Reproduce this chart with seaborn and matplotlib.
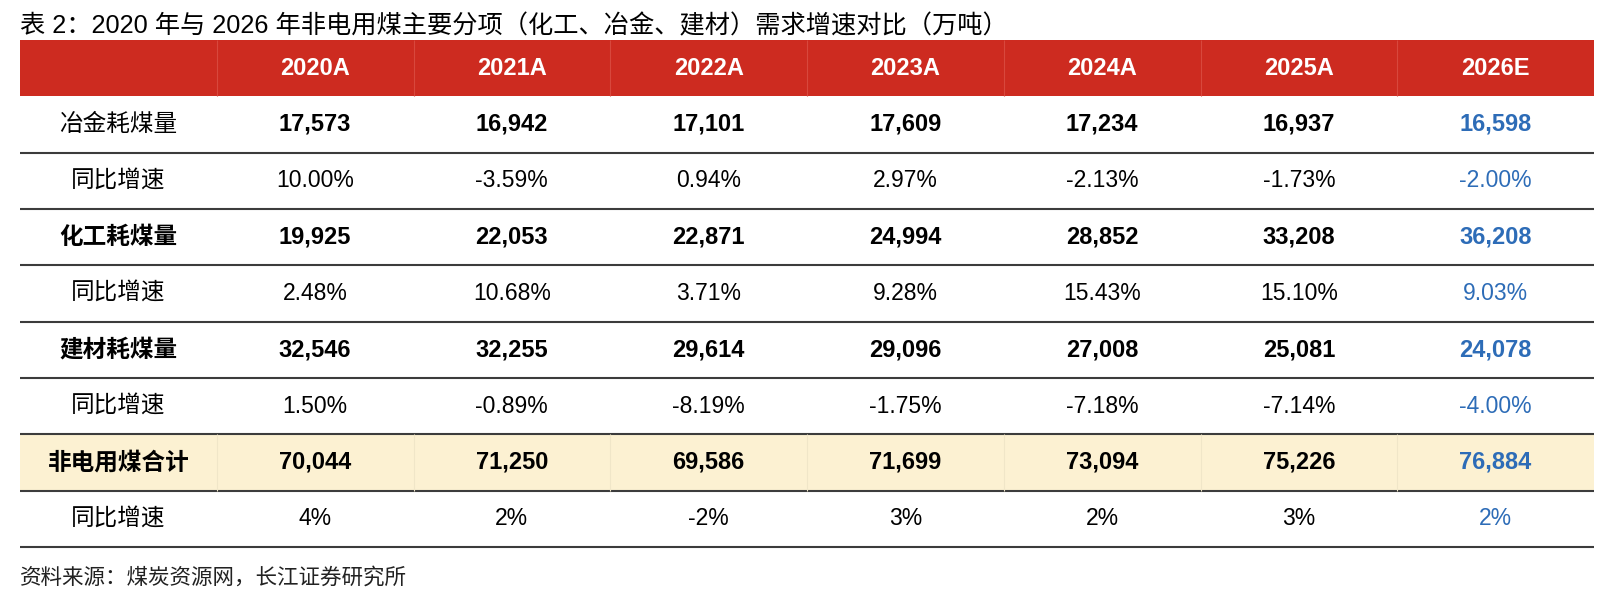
import numpy as np
import pandas as pd
import matplotlib
matplotlib.use('Agg')
import matplotlib.pyplot as plt
from matplotlib.colors import ListedColormap
import seaborn as sns

# données du tableau (万吨 / %)
years = ['2020A', '2021A', '2022A', '2023A', '2024A', '2025A', '2026E']
row_labels = ['冶金耗煤量', '同比增速', '化工耗煤量', '同比增速',
              '建材耗煤量', '同比增速', '非电用煤合计', '同比增速']
metal = [17573, 16942, 17101, 17609, 17234, 16937, 16598]
metal_yoy = [10.00, -3.59, 0.94, 2.97, -2.13, -1.73, -2.00]
chem = [19925, 22053, 22871, 24994, 28852, 33208, 36208]
chem_yoy = [2.48, 10.68, 3.71, 9.28, 15.43, 15.10, 9.03]
build = [32546, 32255, 29614, 29096, 27008, 25081, 24078]
build_yoy = [1.50, -0.89, -8.19, -1.75, -7.18, -7.14, -4.00]
total = [70044, 71250, 69586, 71699, 73094, 75226, 76884]
total_yoy = [4, 2, -2, 3, 2, 3, 2]

title = '表 2：2020 年与 2026 年非电用煤主要分项（化工、冶金、建材）需求增速对比（万吨）'
source = '资料来源：煤炭资源网，长江证券研究所'

RED = '#CD2B20'
YELLOW = '#FCF1D2'
BLUE = '#2D6CB7'
LINE = '#3c3c3c'

sns.set_theme(style='white')
plt.rcParams['font.family'] = ['Liberation Sans', 'Noto Sans CJK SC']

W, H = 1606, 598
fig = plt.figure(figsize=(W / 100, H / 100), dpi=100)

# zone du tableau en pixels
left, right, top, bottom = 20, 1594, 40, 547
ax = fig.add_axes([left / W, 1 - bottom / H, (right - left) / W, (bottom - top) / H])

# couleurs de fond : 1 = entête rouge, 2 = ligne total jaune
bg = np.zeros((9, 8))
bg[0, :] = 1
bg[7, :] = 2
bg = pd.DataFrame(bg)
sns.heatmap(bg, cmap=ListedColormap(['white', RED, YELLOW]), vmin=0, vmax=2,
            cbar=False, ax=ax, xticklabels=False, yticklabels=False, linewidths=0)

# lignes horizontales
ax.hlines(list(range(2, 10)), 0, 8, color=LINE, lw=1.5, clip_on=False)
# séparateurs verticaux clairs
ax.vlines(list(range(1, 8)), 0, 1, color='#D8483D', lw=0.8)
ax.vlines(list(range(1, 8)), 7, 8, color='#F0E6C8', lw=0.8)

# entête
for j, y in enumerate(years):
    ax.text(j + 1.5, 0.5, y, ha='center', va='center', color='white',
            fontsize=17, fontweight='bold')

rows = [(metal, 'num'), (metal_yoy, 'pct'), (chem, 'num'), (chem_yoy, 'pct'),
        (build, 'num'), (build_yoy, 'pct'), (total, 'num'), (total_yoy, 'int')]
bold_labels = {'化工耗煤量', '建材耗煤量', '非电用煤合计'}

for i, (label, (vals, kind)) in enumerate(zip(row_labels, rows)):
    yc = i + 1.5
    ax.text(0.5, yc, label, ha='center', va='center', fontsize=17,
            family=['Noto Sans CJK SC'],
            fontweight='bold' if label in bold_labels else 'normal', color='black')
    for j, v in enumerate(vals):
        if kind == 'num':
            s, fw, fs = f'{v:,}', 'bold', 17
        elif kind == 'pct':
            s, fw, fs = f'{v:.2f}%', 'normal', 16.5
        else:
            s, fw, fs = f'{v}%', 'normal', 16.5
        col = BLUE if j == len(vals) - 1 else 'black'
        ax.text(j + 1.5, yc, s, ha='center', va='center', fontsize=fs,
                fontweight=fw, color=col)

fig.text(left / W, 1 - 26 / H, title, ha='left', va='center', fontsize=18.2, color='black')
fig.text(left / W, 1 - 578 / H, source, ha='left', va='center', fontsize=15.5, color='#222222')

fig.savefig('out.png', dpi=100)
